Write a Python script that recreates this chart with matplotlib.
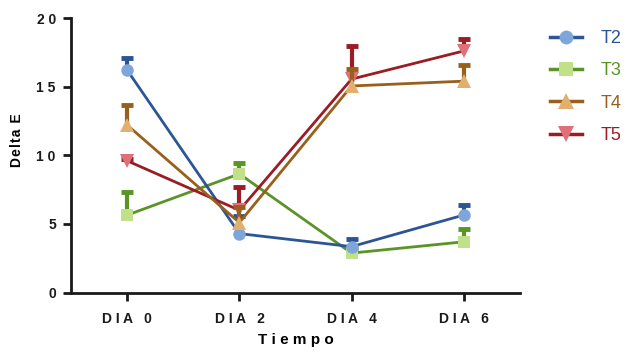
import matplotlib
matplotlib.use('Agg')
import matplotlib.pyplot as plt
from matplotlib.lines import Line2D

plt.rcParams['font.family'] = ['Liberation Sans', 'DejaVu Sans']

dias = ['DIA 0', 'DIA 2', 'DIA 4', 'DIA 6']
series = ['T2', 'T3', 'T4', 'T5']
yticks = [0, 5, 10, 15, 20]

t2 = [16.2, 4.3, 3.35, 5.65]
t3 = [5.65, 8.65, 2.88, 3.7]
t4 = [12.2, 5.1, 15.05, 15.4]
t5 = [9.6, 6.0, 15.55, 17.6]

# solo barra superior (SEM)
t2_err = [0.9, 1.25, 0.55, 0.75]
t3_err = [1.7, 0.8, 0.3, 0.9]
t4_err = [1.45, 1.15, 1.2, 1.15]
t5_err = [0.15, 1.7, 2.4, 0.85]

line_col = {'T2': '#2B5597', 'T3': '#5A9427', 'T4': '#98601A', 'T5': '#9A1C24'}
mark_col = {'T2': '#7FA6DA', 'T3': '#C0E08A', 'T4': '#E2B06E', 'T5': '#E07078'}
markers = {'T2': 'o', 'T3': 's', 'T4': '^', 'T5': 'v'}
msize = {'T2': 9, 'T3': 9, 'T4': 10, 'T5': 10}

data = {'T2': (t2, t2_err), 'T3': (t3, t3_err), 'T4': (t4, t4_err), 'T5': (t5, t5_err)}


def spaced(s, sep=' '):
    # imitar el espaciado de letras de GraphPad
    return sep.join(s)


fig = plt.figure(figsize=(6.24, 3.53), dpi=100)
ax = fig.add_axes([0.114, 0.171, 0.719, 0.778])

x = list(range(len(dias)))
order = ['T3', 'T2', 'T5', 'T4']
for z, s in enumerate(order):
    vals, err = data[s]
    eb = ax.errorbar(x, vals, yerr=[[0] * len(err), err], fmt='none',
                     ecolor=line_col[s], elinewidth=3, capsize=4.5, capthick=3.5,
                     zorder=2 + z)
    eb[1][0].set_visible(False)  # sin tapa inferior
    ax.plot(x, vals, '-', color=line_col[s], linewidth=2, zorder=2.3 + z)
    ax.plot(x, vals, markers[s], markersize=msize[s], color=mark_col[s],
            markeredgewidth=0, zorder=2.6 + z)

ax.set_xlim(-0.5, 3.5)
ax.set_ylim(0, 20)
ax.set_yticks(yticks)
ax.set_yticklabels([spaced(str(v)) for v in yticks])
ax.set_xticks(x)
ax.set_xticklabels([spaced(d) for d in dias])
ax.spines['top'].set_visible(False)
ax.spines['right'].set_visible(False)
for sp in ['left', 'bottom']:
    ax.spines[sp].set_linewidth(2)
    ax.spines[sp].set_color('#1a1a1a')
ax.tick_params(axis='both', width=2, length=6, color='#1a1a1a',
               labelsize=10, labelcolor='#1a1a1a')
for lb in ax.get_xticklabels() + ax.get_yticklabels():
    lb.set_fontweight('bold')
ax.tick_params(axis='x', pad=8)
ax.tick_params(axis='y', pad=5)

ax.set_ylabel(spaced('Delta E', '\u200a'), fontsize=10, fontweight='bold')
ax.yaxis.set_label_coords(-0.106, 0.556)
ax.set_xlabel(spaced('Tiempo'), fontsize=11, fontweight='bold', va='top')
ax.xaxis.set_label_coords(0.5, -0.148)

handles = [Line2D([0], [0], color=line_col[s], linewidth=2.5, marker=markers[s],
                  markersize=msize[s] + 1, markerfacecolor=mark_col[s],
                  markeredgewidth=0) for s in series]
leg = fig.legend(handles, series, loc='upper left', bbox_to_anchor=(0.881, 0.915),
                 frameon=False, fontsize=13, handlelength=1.8, labelspacing=0.85,
                 handletextpad=1.0, borderaxespad=0, borderpad=0)
for t, s in zip(leg.get_texts(), series):
    t.set_color(line_col[s])

fig.savefig('out.png', dpi=100, facecolor='white')
